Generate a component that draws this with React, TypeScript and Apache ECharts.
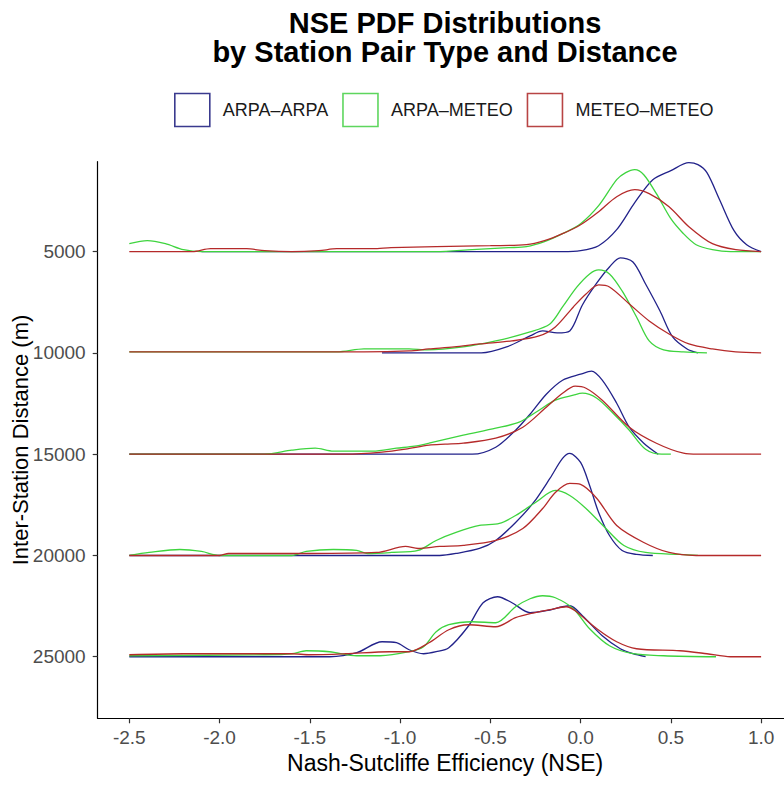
import React, { useEffect, useRef } from "react";
import * as echarts from "echarts";

const distances = [5000, 10000, 15000, 20000, 25000];
const pairTypes = ["ARPA–ARPA", "ARPA–METEO", "METEO–METEO"];
const pairColors = ["#22228a", "#3ed43e", "#b52a2a"];
const legendColors = ["#3a3a8e", "#5ed65e", "#b84444"];
const xTicks = [-2.5, -2, -1.5, -1, -0.5, 0, 0.5, 1];
const yTicks = [5000, 10000, 15000, 20000, 25000];

// [NSE, scaled density] ; scaled density of 101.25 equals one ridge spacing
const aa5000 = [[-2.1,0],[-0.1,0],[0,1],[0.1,6],[0.2,22],[0.3,49],[0.4,72],[0.5,81],[0.6,89],[0.65,87],[0.7,79],[0.77,52],[0.85,21],[0.92,7],[1,0]];
const am5000 = [[-2.5,8],[-2.4,11],[-2.3,8],[-2.2,2],[-2.1,0],[-0.8,0],[-0.6,2],[-0.4,4],[-0.3,5],[-0.2,10],[-0.1,18],[0,28],[0.1,46],[0.2,72],[0.25,79],[0.3,82],[0.35,77],[0.42,58],[0.5,33],[0.57,18],[0.64,7],[0.73,2],[0.83,0],[1,0]];
const mm5000 = [[-2.5,0],[-2.15,0],[-2.05,3],[-1.85,3],[-1.75,1],[-1.6,0],[-1.45,1],[-1.35,3],[-1.15,3],[-1.05,4],[-0.8,5],[-0.5,6],[-0.3,7],[-0.2,11],[-0.1,18],[0,27],[0.1,40],[0.2,55],[0.3,62],[0.38,58],[0.49,45],[0.6,25],[0.73,8],[0.86,2],[1,0]];

const aa10000 = [[-1.1,0],[-0.55,0],[-0.41,6],[-0.28,17],[-0.21,22],[-0.13,20],[-0.06,22],[0.01,48],[0.09,70],[0.16,86],[0.22,95],[0.29,91],[0.36,69],[0.44,42],[0.51,16],[0.59,4],[0.65,0]];
const am10000 = [[-2.5,1],[-1.35,1],[-1.2,4],[-0.95,4],[-0.85,3],[-0.65,6],[-0.47,12],[-0.28,21],[-0.17,29],[-0.1,46],[-0.02,66],[0.05,79],[0.1,83],[0.16,79],[0.23,62],[0.31,36],[0.38,12],[0.46,3],[0.57,1],[0.7,0]];
const mm10000 = [[-2.5,1],[-1.2,1],[-0.95,2],[-0.84,4],[-0.7,6],[-0.56,9],[-0.38,12],[-0.23,17],[-0.14,26],[-0.04,46],[0.03,59],[0.1,68],[0.16,66],[0.27,49],[0.38,32],[0.49,19],[0.6,9],[0.73,4],[0.86,1],[1,0]];

const aa15000 = [[-2.5,0],[-0.6,0],[-0.47,7],[-0.36,24],[-0.28,40],[-0.19,60],[-0.1,74],[0,80],[0.06,83],[0.12,74],[0.2,51],[0.27,27],[0.35,11],[0.43,0]];
const am15000 = [[-2.5,0],[-1.75,0],[-1.6,4],[-1.47,6],[-1.37,3],[-1.15,3],[-1.02,6],[-0.92,8],[-0.84,11],[-0.65,19],[-0.47,26],[-0.34,32],[-0.23,44],[-0.14,54],[-0.04,59],[0.01,61],[0.09,56],[0.18,41],[0.27,24],[0.36,5],[0.45,0],[0.5,0]];
const mm15000 = [[-2.5,0],[-1.3,0],[-1.1,2],[-0.97,5],[-0.84,9],[-0.75,10],[-0.65,11],[-0.47,16],[-0.32,27],[-0.19,47],[-0.1,61],[-0.03,68],[0.03,66],[0.12,54],[0.27,27],[0.42,11],[0.57,1],[0.65,0],[1,0]];

const aa20000 = [[-2.5,0],[-0.78,0],[-0.69,2],[-0.56,7],[-0.47,15],[-0.36,33],[-0.26,53],[-0.17,77],[-0.1,97],[-0.06,102],[0,93],[0.05,70],[0.1,43],[0.16,20],[0.23,5],[0.31,1],[0.4,0]];
const am20000 = [[-2.5,0],[-2.39,3],[-2.22,6],[-2.1,4],[-2,0],[-1.6,0],[-1.52,4],[-1.37,6],[-1.24,5],[-1.18,2],[-1.05,3],[-0.9,5],[-0.8,15],[-0.69,23],[-0.56,30],[-0.45,32],[-0.36,40],[-0.25,53],[-0.14,65],[-0.06,60],[0.03,47],[0.14,27],[0.24,10],[0.36,3],[0.55,1],[0.65,0]];
const mm20000 = [[-2.5,0],[-2.0,0],[-1.95,2],[-1.5,2],[-1.13,3],[-0.97,9],[-0.9,7],[-0.78,9],[-0.65,10],[-0.47,15],[-0.32,27],[-0.21,47],[-0.14,63],[-0.06,72],[0,71],[0.09,57],[0.2,30],[0.35,13],[0.49,3],[0.64,0],[1,0]];

const aa25000 = [[-2.5,0],[-1.39,0],[-1.24,4],[-1.1,15],[-1.02,14],[-0.95,7],[-0.87,3],[-0.8,5],[-0.73,9],[-0.62,31],[-0.54,54],[-0.46,60],[-0.38,54],[-0.28,44],[-0.19,46],[-0.06,51],[0.01,41],[0.12,21],[0.22,8],[0.29,3],[0.36,0]];
const am25000 = [[-2.5,1],[-1.75,2],[-1.6,3],[-1.52,6],[-1.39,5],[-1.24,1],[-1.11,1],[-0.95,5],[-0.87,10],[-0.8,25],[-0.73,32],[-0.6,35],[-0.47,34],[-0.36,50],[-0.28,58],[-0.21,61],[-0.14,59],[-0.04,48],[0.05,28],[0.16,11],[0.29,3],[0.46,1],[0.75,0]];
const mm25000 = [[-2.5,2],[-2.2,3],[-1.6,3],[-1.5,2],[-1.3,3],[-1.06,5],[-0.95,5],[-0.84,14],[-0.73,27],[-0.62,32],[-0.47,30],[-0.36,39],[-0.28,43],[-0.17,47],[-0.08,50],[-0.03,46],[0.09,28],[0.2,15],[0.31,8],[0.55,6],[0.7,3],[0.83,0],[1,0]];

const ridgeCurves = [
  [aa5000, am5000, mm5000],
  [aa10000, am10000, mm10000],
  [aa15000, am15000, mm15000],
  [aa20000, am20000, mm20000],
  [aa25000, am25000, mm25000],
];

const RIDGE_SPACING = 5000;
const DENSITY_PER_SPACING = 101.25;
const FONT = "'Liberation Sans', Arial, sans-serif";

export default function App() {
  const ref = useRef<HTMLDivElement>(null);
  useEffect(() => {
    if (!ref.current) return;
    const chart = echarts.init(ref.current, null, { renderer: "svg" });
    const series: any[] = [];
    distances.forEach((dist, ri) => {
      pairTypes.forEach((name, ti) => {
        series.push({
          type: "line",
          name,
          symbol: "none",
          smooth: 0.3,
          lineStyle: { color: pairColors[ti], width: 1.3 },
          itemStyle: { color: pairColors[ti] },
          z: 2 + ti,
          data: ridgeCurves[ri][ti].map(([x, d]) => [x, dist - (d / DENSITY_PER_SPACING) * RIDGE_SPACING]),
        });
      });
    });
    chart.setOption({
      animation: false,
      backgroundColor: "#ffffff",
      title: {
        text: "NSE PDF Distributions\nby Station Pair Type and Distance",
        left: 445,
        top: 8.5,
        textAlign: "center",
        padding: 0,
        textStyle: { fontFamily: FONT, fontWeight: "bold", fontSize: 29, lineHeight: 29, color: "#000" },
      },
      legend: {
        left: 174,
        top: 92.7,
        padding: 0,
        itemWidth: 35,
        itemHeight: 33,
        itemGap: 14,
        icon: "rect",
        textStyle: { fontFamily: FONT, fontSize: 18, color: "#1a1a1a", padding: [0, 0, 0, 8] },
        data: pairTypes.map((name, i) => ({
          name,
          icon: "rect",
          itemStyle: { color: "rgba(255,255,255,0)", borderColor: legendColors[i], borderWidth: 1.6 },
        })),
      },
      grid: { left: 97.7, top: 161.7, width: 695, bottom: 66.7, containLabel: false, outerBoundsMode: "none" },
      xAxis: {
        type: "value",
        min: -2.675,
        max: 1.175,
        name: "Nash-Sutcliffe Efficiency (NSE)",
        nameLocation: "middle",
        nameGap: 33,
        nameMoveOverlap: false,
        nameTextStyle: { fontFamily: FONT, fontSize: 23, color: "#000" },
        splitLine: { show: false },
        axisLine: { show: true, onZero: false, lineStyle: { color: "#000", width: 1.2 } },
        axisTick: { show: true, customValues: xTicks, length: 5, lineStyle: { color: "#333", width: 1.2 } },
        axisLabel: {
          customValues: xTicks,
          margin: 10,
          fontFamily: FONT,
          fontSize: 19,
          color: "#4d4d4d",
          formatter: (v: number) => v.toFixed(1),
        },
      },
      yAxis: {
        type: "value",
        inverse: true,
        min: 556,
        max: 28040,
        name: "Inter-Station Distance (m)",
        nameLocation: "middle",
        nameGap: 66,
        nameRotate: 90,
        nameMoveOverlap: false,
        nameTextStyle: { fontFamily: FONT, fontSize: 22, color: "#000" },
        splitLine: { show: false },
        axisLine: { show: true, onZero: false, lineStyle: { color: "#000", width: 1.2 } },
        axisTick: { show: true, customValues: yTicks, length: 5, lineStyle: { color: "#333", width: 1.2 } },
        axisLabel: {
          customValues: yTicks,
          margin: 12,
          fontFamily: FONT,
          fontSize: 19,
          color: "#4d4d4d",
          formatter: (v: number) => String(v),
        },
      },
      series,
    });
    return () => chart.dispose();
  }, []);
  return <div ref={ref} style={{ position: "absolute", left: 0, top: 0, width: 784, height: 785 }} />;
}
